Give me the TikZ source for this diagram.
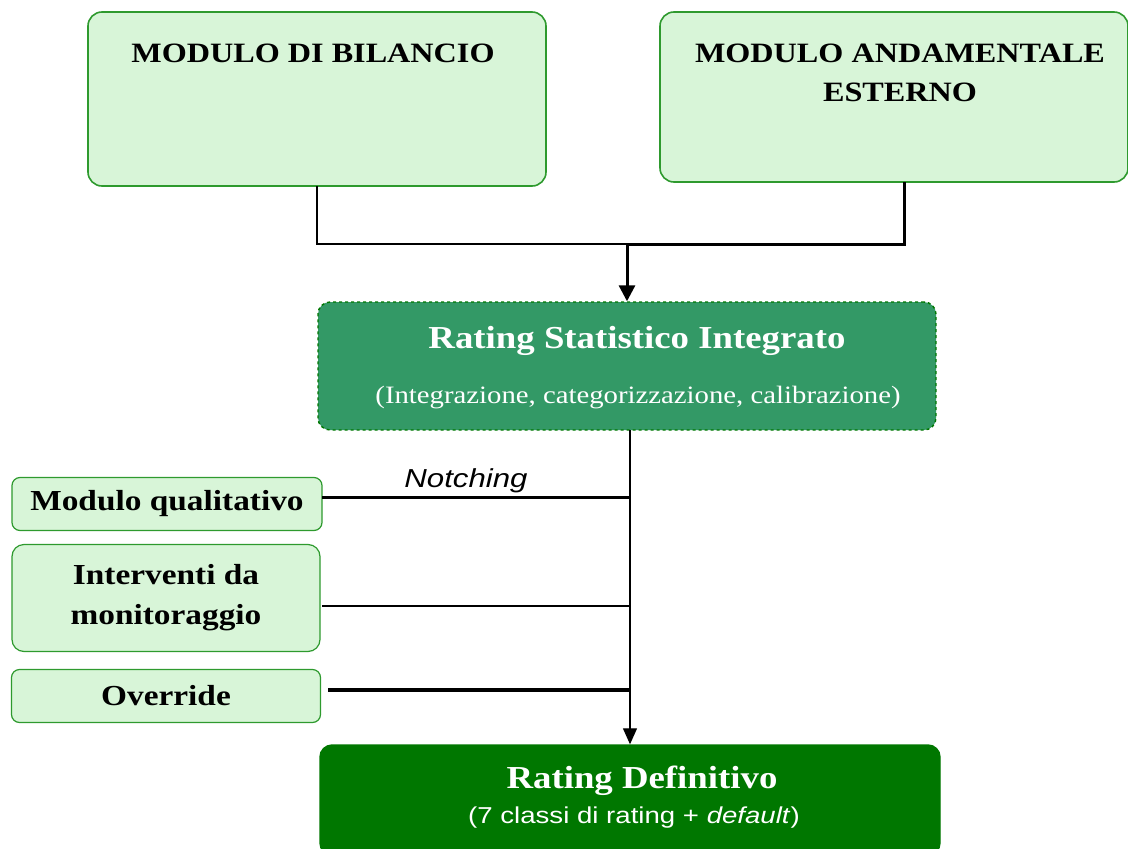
\documentclass[tikz,border=0pt]{standalone}
\usepackage{fontspec}
\setmainfont[FakeStretch=1.15]{Liberation Serif}
\setsansfont[FakeStretch=1.2]{Liberation Sans}
\usetikzlibrary{arrows.meta,calc}
\definecolor{lightg}{HTML}{D8F5D8}
\definecolor{edgeg}{HTML}{2E9A2E}
\definecolor{midg}{HTML}{339966}
\definecolor{darkg}{HTML}{007700}
\tikzset{
  modbox/.style={draw=edgeg, line width=1.6pt, fill=lightg, rounded corners=14pt, inner sep=0pt},
  midbox/.style={draw=darkg, dashed, line width=1.4pt, fill=midg, rounded corners=12pt, inner sep=0pt},
  finbox/.style={draw=darkg, line width=1.4pt, fill=darkg, rounded corners=12pt, inner sep=0pt},
  btitle/.style={font=\fontsize{28}{32}\selectfont\bfseries, align=center, inner sep=0pt},
  sidebox/.style={modbox, line width=1.2pt, font=\fontsize{29}{40}\selectfont\bfseries, align=center},
  conn/.style={line width=1.6pt},
  thick conn/.style={line width=3pt},
  bigarrow/.style={-{Triangle[width=16pt,length=16pt]}}
}
\begin{document}
\begin{tikzpicture}[x=1pt,y=-1pt]
\useasboundingbox (0,0) rectangle (1128,849);
% top boxes
\node[modbox, minimum width=458pt, minimum height=174pt] (b1) at (317,99) {};
\node[modbox, minimum width=468pt, minimum height=170pt] (b2) at (894,97) {};
\node[btitle] (t1) at (313,53) {MODULO DI BILANCIO};
\node[btitle, font=\fontsize{28}{39}\selectfont\bfseries] (t2) at (900,73) {MODULO ANDAMENTALE\\ESTERNO};
% middle box
\node[midbox, minimum width=618pt, minimum height=128pt] (b3) at (627,366) {};
\node[btitle, text=white, font=\fontsize{32}{36}\selectfont\bfseries] (t3) at (637,341) {Rating Statistico Integrato};
\node[inner sep=0pt, text=white, font=\fontsize{25}{28}\selectfont] (t3b) at (638,398) {(Integrazione, categorizzazione, calibrazione)};
% final box
\node[finbox, minimum width=620pt, minimum height=110pt] (b4) at (630,800) {};
\node[btitle, text=white, font=\fontsize{32}{36}\selectfont\bfseries] (t4) at (642,781) {Rating Definitivo};
\node[inner sep=0pt, text=white, font=\sffamily\fontsize{23}{27}\selectfont] (t4b) at (634,818) {(7 classi di rating + \textit{default})};
% left boxes
\node[sidebox, rounded corners=8pt, minimum width=310pt, minimum height=53pt] (q) at (167,504) {Modulo qualitativo};
\node[sidebox, rounded corners=12pt, minimum width=308pt, minimum height=107pt] (m) at (166,598) {Interventi da\\monitoraggio};
\node[sidebox, rounded corners=8pt, minimum width=309pt, minimum height=53pt] (o) at (166,696) {Override};
% connectors top
\coordinate (j) at (627,244);
\coordinate (b1s) at (317,186);
\coordinate (b2s) at (904,182);
\draw[conn] (b1s) |- (j);
\draw[thick conn] (b2s) |- (j);
\draw[thick conn, bigarrow] (j) -- (b3.north);
% vertical line to final
\coordinate (vtop) at (630,430);
\draw[line width=1.2pt, -{Triangle[width=14pt,length=16pt]}] (vtop) -- (b4.north);
% horizontal lines
\draw[line width=3pt] (322,497) -- (vtop |- 0,497);
\draw[line width=2pt] (322,606) -- (vtop |- 0,606);
\draw[line width=3.4pt] (328,690) -- (vtop |- 0,690);
\node[inner sep=0pt, font=\sffamily\itshape\fontsize{26}{28}\selectfont] (notch) at (466,481) {Notching};
\end{tikzpicture}
\end{document}
